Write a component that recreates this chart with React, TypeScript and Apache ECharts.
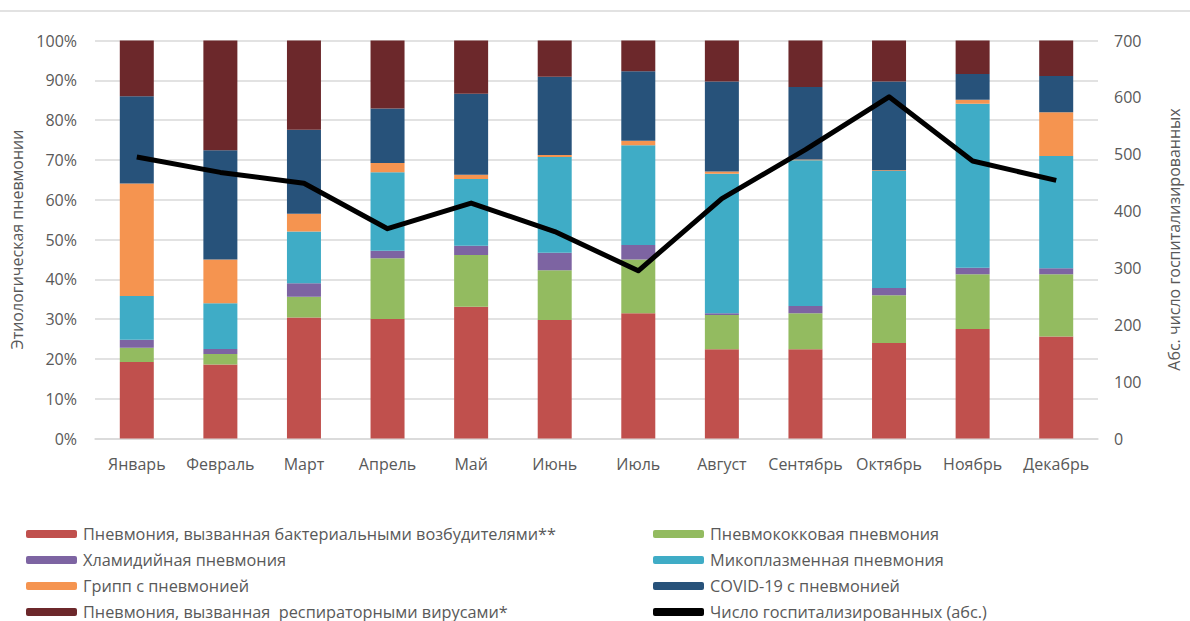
import React, { useEffect, useRef } from "react";
import * as echarts from "echarts";

const months = ["Январь", "Февраль", "Март", "Апрель", "Май", "Июнь", "Июль", "Август", "Сентябрь", "Октябрь", "Ноябрь", "Декабрь"];

const bacterial = [19.2, 18.6, 30.4, 30.0, 33.1, 29.8, 31.5, 22.4, 22.4, 24.0, 27.5, 25.6];
const pneumococcal = [3.6, 2.6, 5.2, 15.3, 13.0, 12.5, 13.5, 8.6, 9.1, 12.0, 13.8, 15.7];
const chlamydial = [2.0, 1.3, 3.4, 1.9, 2.3, 4.4, 3.6, 0.5, 1.8, 1.8, 1.6, 1.5];
const mycoplasma = [11.0, 11.5, 13.0, 19.7, 16.8, 24.0, 25.1, 35.0, 36.6, 29.4, 41.2, 28.2];
const influenza = [28.3, 11.0, 4.5, 2.3, 1.1, 0.5, 1.1, 0.6, 0.2, 0.2, 1.0, 11.0];
const covid = [21.9, 27.4, 21.1, 13.7, 20.3, 19.7, 17.5, 22.6, 18.2, 22.3, 6.5, 9.1];
const respiratory = [14.0, 27.6, 22.4, 17.1, 13.4, 9.1, 7.7, 10.3, 11.7, 10.3, 8.4, 8.9];
const hospitalized = [495, 468, 449, 369, 414, 364, 295, 422, 508, 601, 488, 454];

const names = {
  bacterial: "Пневмония, вызванная бактериальными возбудителями**",
  pneumococcal: "Пневмококковая пневмония",
  chlamydial: "Хламидийная пневмония",
  mycoplasma: "Микоплазменная пневмония",
  influenza: "Грипп с пневмонией",
  covid: "COVID-19 с пневмонией",
  respiratory: "Пневмония, вызванная  респираторными вирусами*",
  hospitalized: "Число госпитализированных (абс.)",
};

const FONT = "'Open Sans', 'Noto Sans', sans-serif";
const GRAY = "#595959";

export default function App() {
  const ref = useRef<HTMLDivElement>(null);
  useEffect(() => {
    document.body.style.margin = "0";
    const chart = echarts.init(ref.current!, null, { renderer: "svg" });
    const bar = (name: string, data: number[], color: string) => ({
      name,
      type: "bar",
      stack: "total",
      data,
      barWidth: 34,
      itemStyle: { color },
      emphasis: { disabled: true },
    });
    const legendBase = {
      orient: "vertical",
      top: 526,
      height: 120,
      padding: 0,
      itemWidth: 51,
      itemHeight: 8,
      itemGap: 10,
      textStyle: { color: GRAY, fontSize: 16.3, fontFamily: FONT, lineHeight: 16, padding: [0, 0, 0, 1] },
    };
    chart.setOption({
      animation: false,
      textStyle: { fontFamily: FONT },
      graphic: [
        {
          type: "line",
          shape: { x1: 0, y1: 11, x2: 1190, y2: 11 },
          style: { stroke: "#d9d9d9", lineWidth: 1.5 },
        },
      ],
      grid: { left: 95, right: 73, top: 40.5, bottom: 182.5 },
      legend: [
        {
          ...legendBase,
          left: 26,
          data: [names.bacterial, names.chlamydial, names.influenza, names.respiratory],
        },
        {
          ...legendBase,
          left: 653,
          data: [
            names.pneumococcal,
            names.mycoplasma,
            names.covid,
            { name: names.hospitalized, icon: "roundRect" },
          ],
        },
      ],
      xAxis: {
        type: "category",
        data: months,
        axisLine: { lineStyle: { color: "#d9d9d9", width: 1.5 } },
        axisTick: { show: false },
        axisLabel: { color: GRAY, fontSize: 16, margin: 17, fontFamily: FONT, interval: 0 },
      },
      yAxis: [
        {
          type: "value",
          min: 0,
          max: 100,
          interval: 10,
          name: "Этиологическая пневмонии",
          nameLocation: "middle",
          nameRotate: 90,
          nameGap: 70,
          nameTextStyle: { color: GRAY, fontSize: 16, fontFamily: FONT },
          axisLabel: { formatter: "{value}%", color: GRAY, fontSize: 16, margin: 18, fontFamily: FONT },
          splitLine: { lineStyle: { color: "#d9d9d9", width: 1.5 } },
          axisLine: { show: false },
          axisTick: { show: false },
        },
        {
          type: "value",
          min: 0,
          max: 700,
          interval: 100,
          name: "Абс. число госпитализированных",
          nameLocation: "middle",
          nameRotate: 90,
          nameGap: 68,
          nameTextStyle: { color: GRAY, fontSize: 16, fontFamily: FONT },
          axisLabel: { color: GRAY, fontSize: 16, margin: 16, fontFamily: FONT },
          splitLine: { show: false },
          axisLine: { show: false },
          axisTick: { show: false },
        },
      ],
      series: [
        bar(names.bacterial, bacterial, "#C0504D"),
        bar(names.pneumococcal, pneumococcal, "#93BB60"),
        bar(names.chlamydial, chlamydial, "#7D64A2"),
        bar(names.mycoplasma, mycoplasma, "#3FACC6"),
        bar(names.influenza, influenza, "#F59450"),
        bar(names.covid, covid, "#27527A"),
        bar(names.respiratory, respiratory, "#6C282B"),
        {
          name: names.hospitalized,
          type: "line",
          yAxisIndex: 1,
          data: hospitalized,
          symbol: "none",
          z: 5,
          lineStyle: { color: "#000", width: 5, join: "round" },
          itemStyle: { color: "#000" },
          emphasis: { disabled: true },
        },
      ],
    });
    return () => chart.dispose();
  }, []);
  return <div ref={ref} style={{ width: 1190, height: 621 }} />;
}
